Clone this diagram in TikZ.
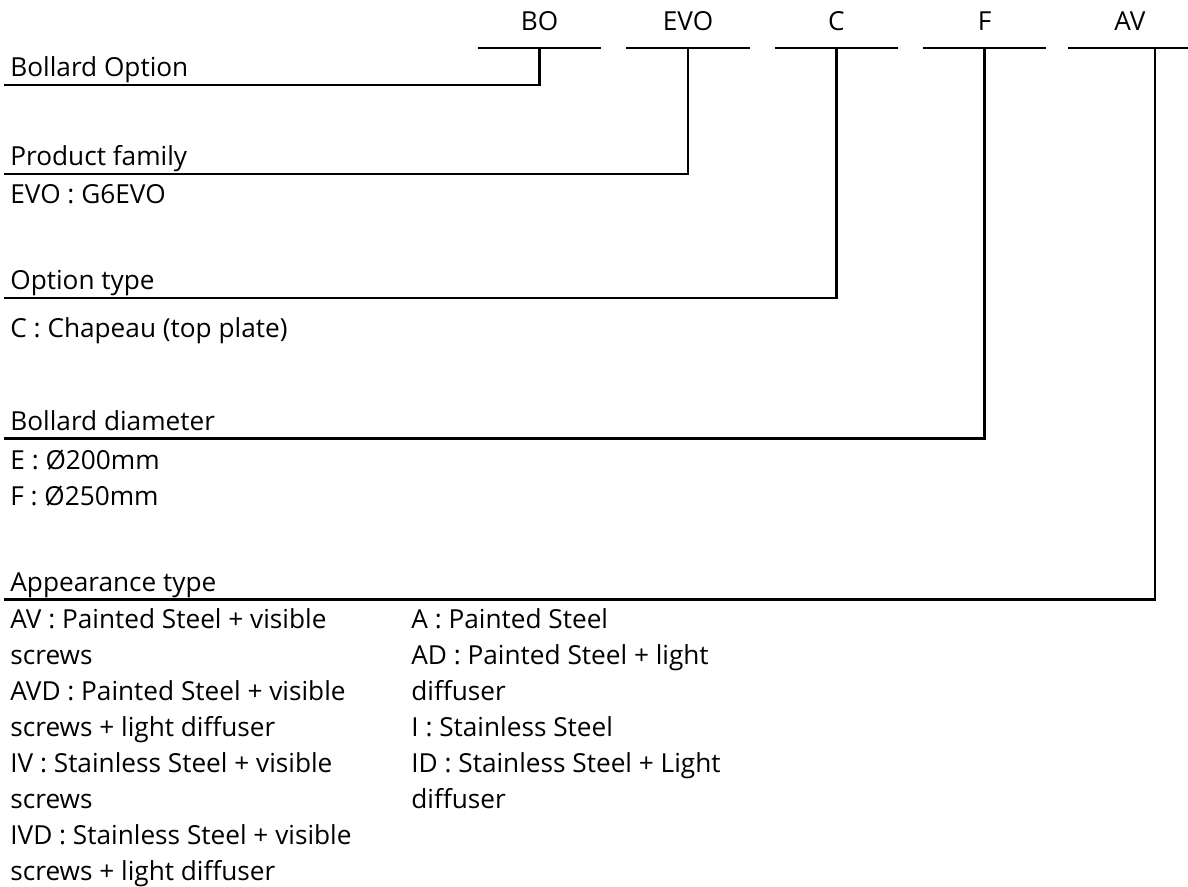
\documentclass[tikz,border=0pt]{standalone}
\usepackage{fontspec}
\setmainfont{Open Sans}
\tikzset{
	code/.style={anchor=base,inner sep=0pt,text depth=8.5pt,minimum width=61.5pt,font=\fontsize{13.1}{18}\selectfont},
	field/.style={anchor=base west,inner xsep=3pt,inner ysep=0pt,text depth=4pt,font=\fontsize{13.1}{18}\selectfont},
	entry/.style={anchor=base west,inner sep=0pt,font=\fontsize{13.1}{18}\selectfont},
	rule/.style={line width=1.1pt}
}

\begin{document}
\begin{tikzpicture}[x=0.5pt,y=-0.5pt]
	\useasboundingbox (0,0) rectangle (1188,887);

	% reference code
	\node [code] (BO) at (539.5,31) {BO};
	\node [code] (EVO) at (688,31) {EVO};
	\node [code] (C) at (836.5,31) {C};
	\node [code] (F) at (984.5,31) {F};
	\node [code] (AV) at (1130,31) {AV};
	\foreach \n in {BO,EVO,C,F,AV}
		\draw [rule] (\n.south west) -- (\n.south east);
	\coordinate (AVtap) at (1155,48);

	% fields
	\node [field] (option) at (4,77) {Bollard Option};
	\node [field] (family) at (4,166) {Product family};
	\node [entry] (evo) at (10,204) {EVO : G6EVO};
	\node [field] (type) at (4,290) {Option type};
	\node [entry] (chapeau) at (10,338) {C : Chapeau (top plate)};
	\node [field] (diameter) at (4,430) {Bollard diameter};
	\node [entry] (e200) at (10,469) {E : Ø200mm};
	\node [entry] (f250) at (10,505) {F : Ø250mm};
	\node [field] (look) at (4,591) {Appearance type};

	\node [entry] (av1) at (10,628) {AV : Painted Steel + visible};
	\node [entry] (av2) at (10,664) {screws};
	\node [entry] (avd1) at (10,700) {AVD : Painted Steel + visible};
	\node [entry] (avd2) at (10,736) {screws + light diffuser};
	\node [entry] (iv1) at (10,772) {IV : Stainless Steel + visible};
	\node [entry] (iv2) at (10,808) {screws};
	\node [entry] (ivd1) at (10,844) {IVD : Stainless Steel + visible};
	\node [entry] (ivd2) at (10,880) {screws + light diffuser};

	\node [entry] (a) at (411,628) {A : Painted Steel};
	\node [entry] (ad1) at (411,664) {AD : Painted Steel + light};
	\node [entry] (ad2) at (411,700) {diffuser};
	\node [entry] (i) at (411,736) {I : Stainless Steel};
	\node [entry] (id1) at (411,772) {ID : Stainless Steel + Light};
	\node [entry] (id2) at (411,808) {diffuser};

	% connectors
	\draw [rule] (option.south west) -| (BO.south);
	\draw [rule] (family.south west) -| (EVO.south);
	\draw [rule] (type.south west) -| (C.south);
	\draw [rule] (diameter.south west) -| (F.south);
	\draw [rule] (look.south west) -| (AVtap);
\end{tikzpicture}
\end{document}
